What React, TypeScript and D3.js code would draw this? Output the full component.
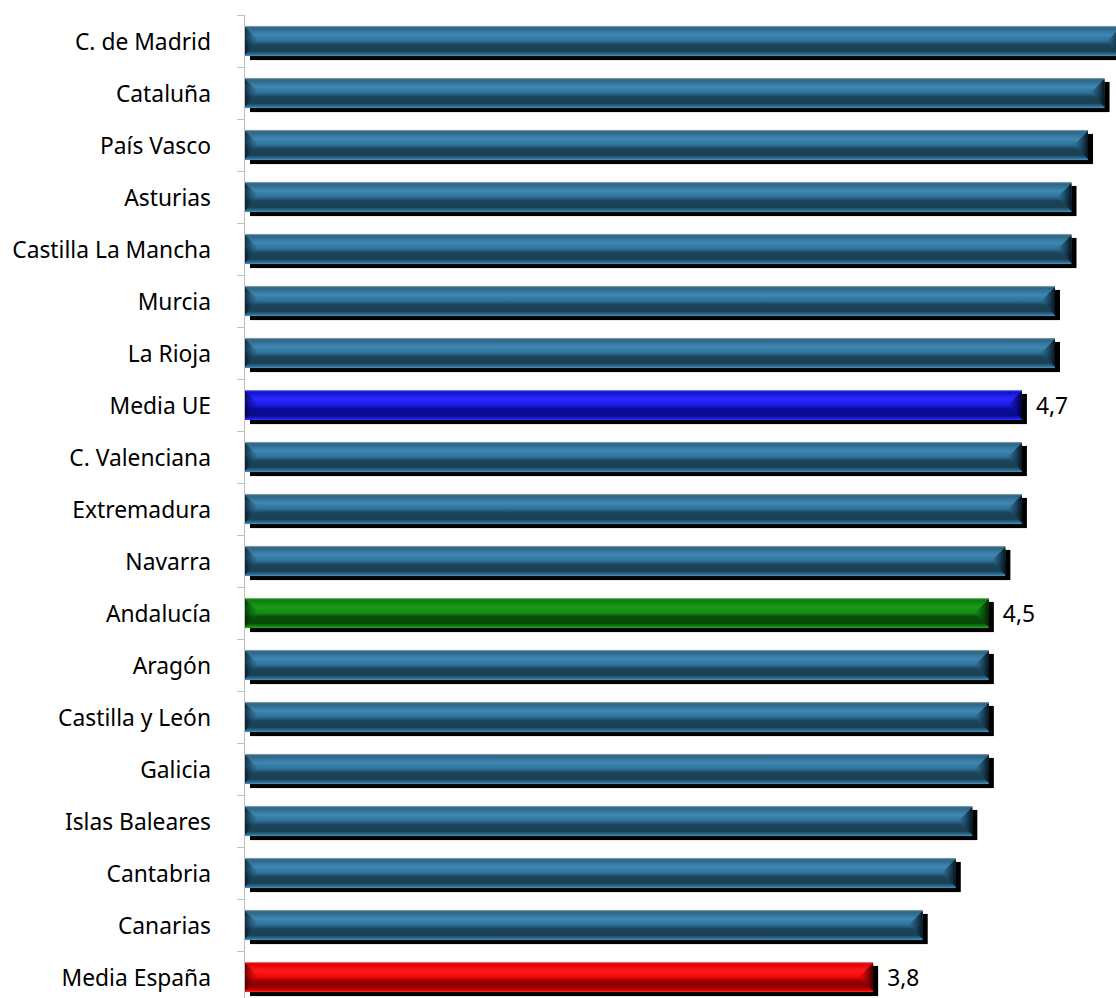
import React from "react";
import * as d3 from "d3";

const width = 1116;
const height = 998;

const regions = [
  "C. de Madrid",
  "Cataluña",
  "País Vasco",
  "Asturias",
  "Castilla La Mancha",
  "Murcia",
  "La Rioja",
  "Media UE",
  "C. Valenciana",
  "Extremadura",
  "Navarra",
  "Andalucía",
  "Aragón",
  "Castilla y León",
  "Galicia",
  "Islas Baleares",
  "Cantabria",
  "Canarias",
  "Media España",
];
const values = [5.3, 5.2, 5.1, 5.0, 5.0, 4.9, 4.9, 4.7, 4.7, 4.7, 4.6, 4.5, 4.5, 4.5, 4.5, 4.4, 4.3, 4.1, 3.8];
const labelled = ["Media UE", "Andalucía", "Media España"];

const palettes: Record<string, string[]> = {
  steel: ["#9aa8b2", "#2c6482", "#3d88b2", "#2e7099", "#1c4459", "#1b3f52", "#2d6f93", "#4a93bd"],
  blue: ["#a0a0d8", "#1010d0", "#2a2aff", "#1a1ae8", "#0a0a9a", "#0a0a8c", "#1a1ad8", "#3a3aff"],
  green: ["#9cc29c", "#0c7a0c", "#1a9a1a", "#138a13", "#0a4f0a", "#094609", "#148414", "#22a822"],
  red: ["#e0a0a0", "#e00000", "#ff1a1a", "#f00808", "#9a0000", "#8c0000", "#e00000", "#ff3030"],
};
const capDark: Record<string, string> = {
  steel: "#07141c",
  blue: "#00003a",
  green: "#002200",
  red: "#3a0000",
};

const colorOf = (name: string) =>
  name === "Media UE" ? "blue" : name === "Andalucía" ? "green" : name === "Media España" ? "red" : "steel";

const font = "'Noto Sans', 'Open Sans', sans-serif";

const App = () => {
  const x0 = 245;
  const xScale = d3.scaleLinear().domain([0, 5.5]).range([x0, x0 + 165.3 * 5.5]);
  const yScale = d3.scaleBand().domain(regions).range([15, 15 + 52 * regions.length]).paddingInner(0.42).paddingOuter(0.21);
  const bh = yScale.bandwidth();
  const cap = 14;

  return (
    <div style={{ position: "absolute", left: 0, top: 0 }}>
      <svg width={width} height={height} style={{ display: "block" }}>
        <defs>
          {Object.entries(palettes).map(([k, c]) => (
            <linearGradient key={k} id={`g-${k}`} x1="0" y1="0" x2="0" y2="1">
              <stop offset="0" stopColor={c[0]} />
              <stop offset="0.06" stopColor={c[1]} />
              <stop offset="0.3" stopColor={c[2]} />
              <stop offset="0.5" stopColor={c[3]} />
              <stop offset="0.62" stopColor={c[4]} />
              <stop offset="0.84" stopColor={c[5]} />
              <stop offset="0.94" stopColor={c[6]} />
              <stop offset="1" stopColor={c[7]} />
            </linearGradient>
          ))}
          {Object.entries(capDark).map(([k, c]) => (
            <React.Fragment key={k}>
              <linearGradient id={`r-${k}`} x1="0" y1="0" x2="1" y2="0">
                <stop offset="0" stopColor={palettes[k][3]} stopOpacity="0.6" />
                <stop offset="1" stopColor={c} />
              </linearGradient>
              <linearGradient id={`l-${k}`} x1="0" y1="0" x2="1" y2="0">
                <stop offset="0" stopColor={c} stopOpacity="0.75" />
                <stop offset="1" stopColor={palettes[k][3]} stopOpacity="0.2" />
              </linearGradient>
            </React.Fragment>
          ))}
        </defs>

        {/* axis */}
        <line x1={244.5} x2={244.5} y1={15} y2={height} stroke="#bfbfbf" strokeWidth={1} />
        {d3.range(regions.length + 1).map((i) => (
          <line key={i} x1={237} x2={244.5} y1={15 + i * 52 + 0.5} y2={15 + i * 52 + 0.5} stroke="#bfbfbf" />
        ))}

        {regions.map((r, i) => {
          const y = yScale(r)!;
          const x1 = xScale(values[i]);
          const k = colorOf(r);
          const mid = y + bh * 0.5;
          return (
            <g key={r}>
              <rect x={x0 + 5} y={y + 4} width={x1 - x0} height={bh} fill="#000" />
              <rect x={x0} y={y} width={x1 - x0} height={bh} fill={`url(#g-${k})`} />
              <polygon points={`${x0},${y + 1} ${x0 + cap},${mid} ${x0},${y + bh - 1}`} fill={`url(#l-${k})`} />
              <polygon points={`${x1},${y + 1} ${x1 - cap},${mid} ${x1},${y + bh - 1}`} fill={`url(#r-${k})`} />
              <text
                x={211}
                y={mid}
                textAnchor="end"
                dominantBaseline="central"
                fontFamily={font}
                fontSize={22.8}
                fill="#000"
              >
                {r}
              </text>
              {labelled.includes(r) && (
                <text x={x1 + 14} y={mid} dominantBaseline="central" fontFamily={font} fontSize={22.8} fill="#000">
                  {values[i].toFixed(1).replace(".", ",")}
                </text>
              )}
            </g>
          );
        })}
      </svg>
    </div>
  );
};

export default App;
